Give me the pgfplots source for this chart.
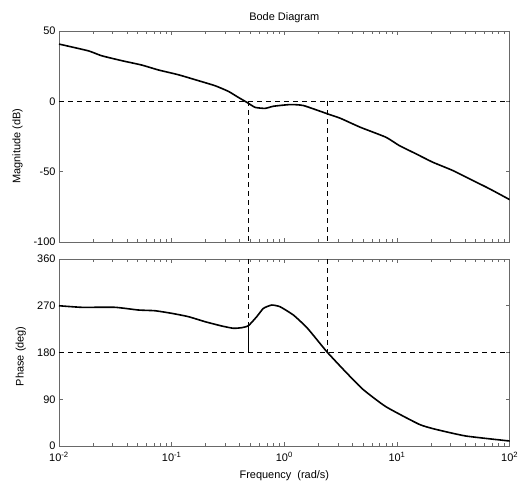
\documentclass[border=0pt]{standalone}
\usepackage{fontspec}
\setmainfont{Liberation Sans}
\usepackage{pgfplots}
\pgfplotsset{compat=1.18}
\definecolor{frame}{RGB}{105,105,105}
\pgfplotsset{
  bodeaxis/.style={
    scale only axis, width=450.7bp, anchor=south west,
    font=\fontsize{11}{13}\selectfont,
    axis line style={draw=frame, line width=0.9bp},
    every tick/.style={draw=frame, line width=0.6bp},
    major tick length=4bp, minor tick length=3bp,
    tick align=inside, tick pos=both,
    xtick={0.01,0.1,1,10,100},
    clip=true,
  }
}
\begin{document}
\begin{tikzpicture}
\useasboundingbox (0,0) rectangle (519bp,496bp);
\begin{axis}[xmode=log, xmin=0.01, xmax=100, bodeaxis, at={(59bp,254bp)}, height=211bp,
  ymin=-100, ymax=50, ytick={-100,-50,0,50},
  yticklabels={-100,-50,0,50},
  xticklabels={},
  title={Bode Diagram}, title style={yshift=-1bp},
  ylabel={Magnitude (dB)}, ylabel style={at={(axis description cs:-0.092,0.455)}, anchor=center}]
\addplot[black, dash pattern=on 5bp off 4bp, line width=0.8bp] coordinates {(0.01,0) (100,0)};
\addplot[black, dash pattern=on 5bp off 4bp, line width=0.8bp] coordinates {(0.4797,0) (0.4797,-100)};
\addplot[black, dash pattern=on 5bp off 4bp, line width=0.8bp] coordinates {(2.415,0) (2.415,-100)};
\addplot[black, line width=1.6bp, smooth, tension=0.3] coordinates {
(0.01,40.7) (0.0182,35.9) (0.0239,32.4) (0.0361,28.9) (0.0542,25.8) (0.0762,22.3)
(0.1146,18.9) (0.1725,14.7) (0.2427,11.1) (0.3184,7.1) (0.3908,2.8) (0.4645,-0.7)
(0.5508,-4.3) (0.676,-5.0) (0.800,-3.5) (1.125,-2.3) (1.478,-3.0)
(2.415,-8.9) (3.13,-12.0) (4.71,-18.4) (7.96,-25.5) (10.45,-31.4)
(14.72,-37.3) (20.65,-43.2) (31.1,-49.1) (43.75,-55.0) (65.9,-62.1) (100,-69.9)};
\end{axis}
\begin{axis}[xmode=log, xmin=0.01, xmax=100, bodeaxis, at={(59bp,50bp)}, height=187bp,
  ymin=0, ymax=360, ytick={0,90,180,270,360},
  yticklabels={0,90,180,270,360},
  xticklabels={10\textsuperscript{-2},10\textsuperscript{-1},10\textsuperscript{0},10\textsuperscript{1},10\textsuperscript{2}},
  xticklabel style={yshift=-3bp},
  xlabel={Frequency\ \ (rad/s)}, xlabel style={yshift=-2bp},
  ylabel={Phase (deg)}, ylabel style={at={(axis description cs:-0.085,0.48)}, anchor=center}]
\addplot[black, dash pattern=on 5bp off 4bp, line width=0.8bp] coordinates {(0.01,180) (100,180)};
\addplot[black, dash pattern=on 5bp off 4bp, line width=0.8bp] coordinates {(0.4797,360) (0.4797,180)};
\addplot[black, dash pattern=on 5bp off 4bp, line width=0.8bp] coordinates {(2.415,360) (2.415,180)};
\addplot[black, line width=0.8bp] coordinates {(0.4797,231.6) (0.4797,180)};
\addplot[black, line width=1.6bp, smooth, tension=0.3] coordinates {
(0.01,270) (0.0159,267) (0.0314,267) (0.0506,261.8) (0.0712,260.4) (0.1002,255.4)
(0.1407,249) (0.198,239.3) (0.2786,231) (0.3532,226.6) (0.4188,227.8) (0.4797,231.6)
(0.569,249) (0.652,265) (0.774,271.4) (0.918,268) (1.205,252) (1.584,228)
(2.08,197) (2.415,180) (3.35,147) (4.943,109.7) (7.96,75.7)
(15.74,41.7) (22.13,32) (40.9,19.2) (100,9.6)};
\end{axis}
\end{tikzpicture}
\end{document}
